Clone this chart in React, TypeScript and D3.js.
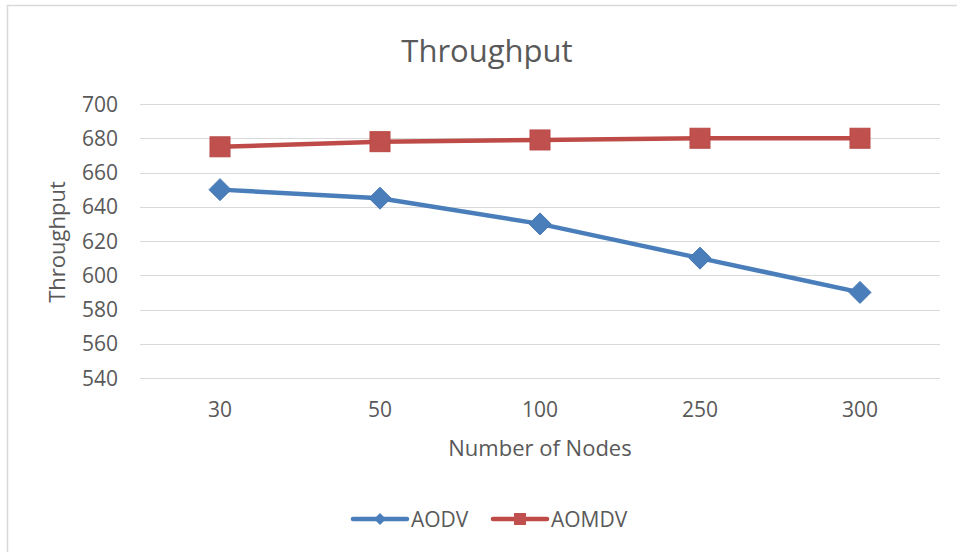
import React, { useEffect, useRef } from "react";
import * as d3 from "d3";

const categories = ["30", "50", "100", "250", "300"];
const aodv = [650, 645, 630, 610, 590];
const aomdv = [675, 678, 679, 680, 680];
const yTicks = [540, 560, 580, 600, 620, 640, 660, 680, 700];
const seriesNames = ["AODV", "AOMDV"];

const W = 957;
const H = 552;
const FONT = "'Open Sans', sans-serif";
const TXT = "#595959";
const BLUE = "#4a7ebb";
const RED = "#be4b48";

export default function App() {
  const ref = useRef<SVGSVGElement | null>(null);

  useEffect(() => {
    const svg = d3.select(ref.current);
    svg.selectAll("*").remove();

    const left = 140, right = 940, top = 104, bottom = 378;
    const x = d3.scaleBand().domain(categories).range([left, right]);
    const y = d3.scaleLinear().domain([540, 700]).range([bottom, top]);
    const cx = (c: string) => (x(c) as number) + x.bandwidth() / 2;

    svg.append("rect").attr("width", W).attr("height", H).attr("fill", "#fff");
    svg.append("path").attr("d", `M7.5,${H} V5.5 H${W}`).attr("fill", "none")
      .attr("stroke", "#d9d9d9").attr("stroke-width", 1.5);

    svg.append("text").attr("x", 487).attr("y", 62).attr("text-anchor", "middle")
      .attr("font-family", FONT).attr("font-size", 31).attr("fill", TXT).text("Throughput");

    // gridlines
    svg.append("g").selectAll("line").data(yTicks).join("line")
      .attr("x1", left).attr("x2", right)
      .attr("y1", (d) => Math.round(y(d)) + 0.5).attr("y2", (d) => Math.round(y(d)) + 0.5)
      .attr("stroke", "#d9d9d9").attr("stroke-width", 1.2);

    svg.append("g").selectAll("text").data(yTicks).join("text")
      .attr("x", 118).attr("y", (d) => y(d)).attr("dy", "0.36em")
      .attr("text-anchor", "end").attr("font-family", FONT).attr("font-size", 21)
      .attr("fill", TXT).text((d) => d);

    svg.append("g").selectAll("text").data(categories).join("text")
      .attr("x", (d) => cx(d)).attr("y", 417).attr("text-anchor", "middle")
      .attr("font-family", FONT).attr("font-size", 21).attr("fill", TXT).text((d) => d);

    svg.append("text").attr("x", 540).attr("y", 456).attr("text-anchor", "middle")
      .attr("font-family", FONT).attr("font-size", 22).attr("fill", TXT).text("Number of Nodes");

    svg.append("text").attr("transform", "translate(65,242) rotate(-90)").attr("text-anchor", "middle")
      .attr("font-family", FONT).attr("font-size", 22).attr("fill", TXT).text("Throughput");

    const line = d3.line<number>().x((_, i) => cx(categories[i])).y((d) => y(d));

    svg.append("path").datum(aodv).attr("d", line).attr("fill", "none")
      .attr("stroke", BLUE).attr("stroke-width", 4.5).attr("stroke-linejoin", "round");
    svg.append("path").datum(aomdv).attr("d", line).attr("fill", "none")
      .attr("stroke", RED).attr("stroke-width", 4.5).attr("stroke-linejoin", "round");

    const diamond = (s: number) => `M0,${-s} L${s},0 L0,${s} L${-s},0 Z`;

    svg.append("g").selectAll("path").data(aodv).join("path")
      .attr("transform", (d, i) => `translate(${cx(categories[i])},${y(d)})`)
      .attr("d", diamond(11)).attr("fill", BLUE).attr("stroke", "#4577b3").attr("stroke-width", 1);

    svg.append("g").selectAll("rect").data(aomdv).join("rect")
      .attr("x", (d, i) => cx(categories[i]) - 10).attr("y", (d) => y(d) - 10)
      .attr("width", 20).attr("height", 20)
      .attr("fill", "#c0504d").attr("stroke", "#b84a47").attr("stroke-width", 1);

    // legend
    const ly = 519;
    const lg = svg.append("g");
    lg.append("line").attr("x1", 353).attr("x2", 407).attr("y1", ly).attr("y2", ly)
      .attr("stroke", BLUE).attr("stroke-width", 4.5).attr("stroke-linecap", "round");
    lg.append("path").attr("transform", `translate(380,${ly})`).attr("d", diamond(6)).attr("fill", BLUE);
    lg.append("text").attr("x", 411).attr("y", ly).attr("dy", "0.36em")
      .attr("font-family", FONT).attr("font-size", 21).attr("fill", TXT).text(seriesNames[0]);
    lg.append("line").attr("x1", 493).attr("x2", 547).attr("y1", ly).attr("y2", ly)
      .attr("stroke", RED).attr("stroke-width", 4.5).attr("stroke-linecap", "round");
    lg.append("rect").attr("x", 514).attr("y", ly - 6).attr("width", 12).attr("height", 12).attr("fill", "#c0504d");
    lg.append("text").attr("x", 551).attr("y", ly).attr("dy", "0.36em")
      .attr("font-family", FONT).attr("font-size", 21).attr("fill", TXT).text(seriesNames[1]);
  }, []);

  return (
    <svg ref={ref} width={W} height={H}
      style={{ position: "absolute", left: 0, top: 0, display: "block" }} />
  );
}
